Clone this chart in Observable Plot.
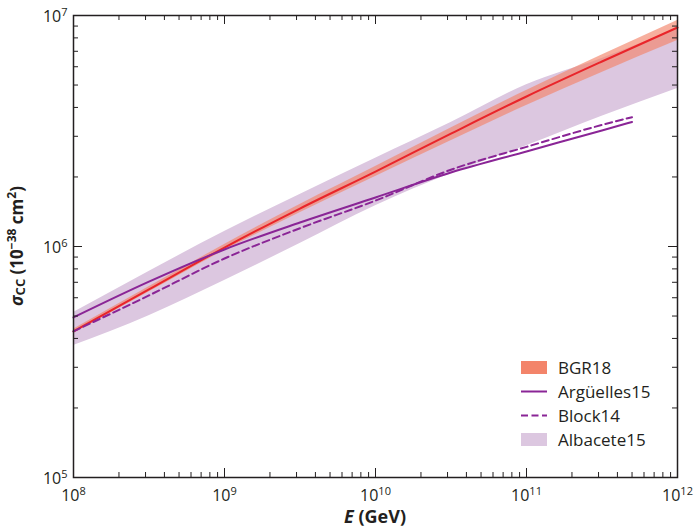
<!DOCTYPE html>
<html><head><meta charset="utf-8">
<script src="https://cdn.jsdelivr.net/npm/d3@7"></script>
<script src="https://cdn.jsdelivr.net/npm/@observablehq/plot@0.6"></script>
<style>
html,body{margin:0;padding:0;background:#fff;}
#chart{width:696px;height:530px;}
</style></head><body><div id="chart"></div>
<script>
// ---- data ----
const energyGeV       = [1e8, 3.16e8, 1e9, 3.16e9, 1e10, 3.16e10, 1e11, 3.16e11, 1e12];
const bgr18           = [4.29e5, 6.52e5, 9.9e5, 1.46e6, 2.11e6, 3.08e6, 4.46e6, 6.32e6, 8.87e6];
const bgr18Low        = [4.20e5, 6.35e5, 9.61e5, 1.40e6, 2.01e6, 2.87e6, 4.08e6, 5.67e6, 7.79e6];
const bgr18High       = [4.38e5, 6.69e5, 1.02e6, 1.52e6, 2.22e6, 3.26e6, 4.74e6, 6.74e6, 9.51e6];
const albacete15Low   = [3.73e5, 5.02e5, 7.13e5, 1.03e6, 1.50e6, 2.07e6, 2.73e6, 3.66e6, 4.83e6];
const albacete15High  = [5.18e5, 7.8e5, 1.16e6, 1.68e6, 2.41e6, 3.44e6, 5.02e6, 6.52e6, 8.79e6];
const modelEnergyGeV  = [1e8, 3.16e8, 1e9, 3.16e9, 1e10, 3.16e10, 1e11, 3.16e11, 5e11];
const arguelles15     = [4.93e5, 7.04e5, 9.71e5, 1.27e6, 1.63e6, 2.09e6, 2.58e6, 3.18e6, 3.46e6];
const block14         = [4.29e5, 6.14e5, 8.87e5, 1.20e6, 1.58e6, 2.15e6, 2.70e6, 3.36e6, 3.63e6];
const xMajorTicks     = [1e8, 1e9, 1e10, 1e11, 1e12];
const yMajorTicks     = [1e5, 1e6, 1e7];
const minorMultipliers = [2, 3, 4, 5, 6, 7, 8, 9];
const legendLabels    = ["BGR18", "Argüelles15", "Block14", "Albacete15"];

// ---- tables built from the arrays ----
const bands = energyGeV.map((E, i) => ({
  E, bgr: bgr18[i], bgrLo: bgr18Low[i], bgrHi: bgr18High[i],
  albLo: albacete15Low[i], albHi: albacete15High[i]
}));
const models = modelEnergyGeV.map((E, i) => ({E, arg: arguelles15[i], block: block14[i]}));
const xMinorTicks = xMajorTicks.slice(0, -1).flatMap(d => minorMultipliers.map(m => m * d));
const yMinorTicks = yMajorTicks.slice(0, -1).flatMap(d => minorMultipliers.map(m => m * d));

const W = 696, H = 530, mL = 73, mR = 19, mT = 15, mB = 53;
const innerW = W - mL - mR, innerH = H - mT - mB;
const ink = "#231f20";
const purple = "#8a2596", red = "#e9252a", salmon = "#f3846a", lilac = "#dcc7e0";
const font = "'Open Sans', 'Noto Sans', sans-serif";
const sup = d => "10^" + Math.round(Math.log10(d));

const plot = Plot.plot({
  width: W, height: H,
  marginLeft: mL, marginRight: mR, marginTop: mT, marginBottom: mB,
  x: {type: "log", domain: [1e8, 1e12], axis: null},
  y: {type: "log", domain: [1e5, 1e7], axis: null},
  style: {fontFamily: font, background: "white", color: ink},
  marks: [
    Plot.areaY(bands, {x: "E", y1: "albLo", y2: "albHi", fill: lilac, curve: "monotone-x"}),
    Plot.areaY(bands, {x: "E", y1: "bgrLo", y2: "bgrHi", fill: salmon, fillOpacity: 0.65, curve: "monotone-x"}),
    Plot.line(bands, {x: "E", y: "bgr", stroke: red, strokeWidth: 2, curve: "monotone-x"}),
    Plot.line(models, {x: "E", y: "arg", stroke: purple, strokeWidth: 2, curve: "monotone-x"}),
    Plot.line(models, {x: "E", y: "block", stroke: purple, strokeWidth: 2, strokeDasharray: "7,4", curve: "monotone-x"}),
    // inward ticks on all four sides
    Plot.ruleX(xMinorTicks, {insetTop: innerH - 5, stroke: ink}),
    Plot.ruleX(xMajorTicks, {insetTop: innerH - 9, stroke: ink}),
    Plot.ruleX(xMinorTicks, {insetBottom: innerH - 5, stroke: ink}),
    Plot.ruleX(xMajorTicks, {insetBottom: innerH - 9, stroke: ink}),
    Plot.ruleY(yMinorTicks, {insetRight: innerW - 5, stroke: ink}),
    Plot.ruleY(yMajorTicks, {insetRight: innerW - 9, stroke: ink}),
    Plot.ruleY(yMinorTicks, {insetLeft: innerW - 5, stroke: ink}),
    Plot.ruleY(yMajorTicks, {insetLeft: innerW - 9, stroke: ink}),
    Plot.frame({stroke: ink, strokeWidth: 1.5}),
    Plot.text(xMajorTicks, {x: d => d, frameAnchor: "bottom", dy: 23, text: sup, fontSize: 16, fill: ink}),
    Plot.text(yMajorTicks, {y: d => d, frameAnchor: "left", dx: -6, dy: 1, textAnchor: "end", text: sup, fontSize: 16, fill: ink})
  ]
});
document.getElementById("chart").appendChild(plot);

// superscript exponents in tick labels
const svg = d3.select(plot);
svg.selectAll("text").each(function() {
  const m = /^10\^(\d+)$/.exec(this.textContent);
  if (!m) return;
  const t = d3.select(this);
  t.text(null);
  t.append("tspan").text("10");
  t.append("tspan").attr("font-size", 11).attr("dy", -6).text(m[1]);
});

// axis titles
const yl = svg.append("text")
  .attr("transform", `translate(${mL - 50},${mT + innerH / 2}) rotate(-90)`)
  .attr("text-anchor", "middle").attr("font-weight", "bold").attr("font-size", 17)
  .attr("fill", ink).attr("font-family", font);
yl.append("tspan").attr("font-style", "italic").text("σ");
yl.append("tspan").attr("font-size", 13).attr("dy", 2).text("CC");
yl.append("tspan").attr("dy", -2).text(" (10");
yl.append("tspan").attr("font-size", 12).attr("dy", -7).text("−38");
yl.append("tspan").attr("dy", 7).text(" cm");
yl.append("tspan").attr("font-size", 12).attr("dy", -7).text("2");
yl.append("tspan").attr("dy", 7).text(")");

const xl = svg.append("text")
  .attr("x", mL + innerW / 2).attr("y", H - 7)
  .attr("text-anchor", "middle").attr("font-weight", "bold").attr("font-size", 18)
  .attr("fill", ink).attr("font-family", font);
xl.append("tspan").attr("font-style", "italic").text("E");
xl.append("tspan").text(" (GeV)");

// legend
const lg = svg.append("g").attr("font-family", font).attr("font-size", 17)
  .attr("fill", ink).attr("text-anchor", "start");
const lx = 521, lw = 26, ly0 = 367.5, lstep = 24;
lg.append("rect").attr("x", lx).attr("y", ly0 - 6.5).attr("width", lw).attr("height", 13).attr("fill", salmon);
lg.append("line").attr("x1", lx).attr("x2", lx + lw).attr("y1", ly0 + lstep).attr("y2", ly0 + lstep)
  .attr("stroke", purple).attr("stroke-width", 2);
lg.append("line").attr("x1", lx).attr("x2", lx + lw).attr("y1", ly0 + 2 * lstep).attr("y2", ly0 + 2 * lstep)
  .attr("stroke", purple).attr("stroke-width", 2).attr("stroke-dasharray", "7,3.5");
lg.append("rect").attr("x", lx).attr("y", ly0 + 3 * lstep - 6.5).attr("width", lw).attr("height", 13).attr("fill", lilac);
legendLabels.forEach((s, i) => {
  lg.append("text").attr("x", lx + 37).attr("y", ly0 + i * lstep).attr("dy", "0.36em")
    .attr("text-anchor", "start").text(s);
});
</script>
</body></html>
